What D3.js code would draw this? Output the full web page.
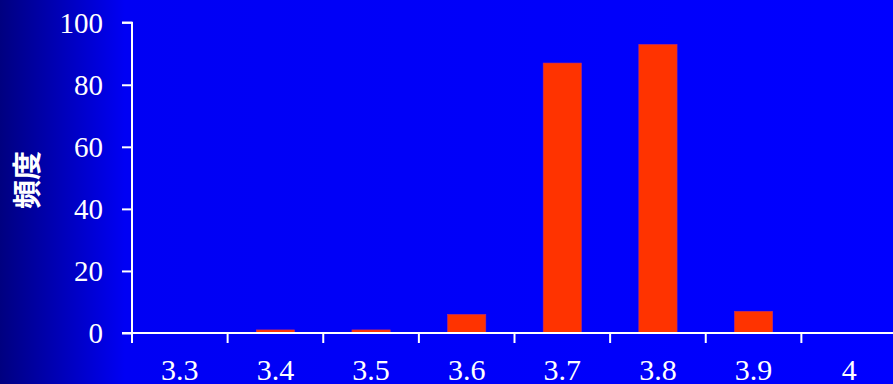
<!DOCTYPE html>
<html><head><meta charset="utf-8">
<script src="https://cdn.jsdelivr.net/npm/d3@7"></script>
<style>html,body{margin:0;padding:0;overflow:hidden;background:#0000ff}</style>
</head><body>
<script>
const categories = ["3.3","3.4","3.5","3.6","3.7","3.8","3.9","4"];
const frequencies = [0, 1, 1, 6, 87, 93, 7, 0];
const yTicks = [0, 20, 40, 60, 80, 100];
const yLabel = "頻度";

const W = 893, H = 384;
const svg = d3.select("body").append("svg").attr("width", W).attr("height", H);
const defs = svg.append("defs");
const grad = defs.append("linearGradient").attr("id","bg").attr("x1","0").attr("x2","1").attr("y1","0").attr("y2","0");
grad.append("stop").attr("offset","0%").attr("stop-color","#000080");
grad.append("stop").attr("offset","14%").attr("stop-color","#0000f4");
grad.append("stop").attr("offset","100%").attr("stop-color","#0000ff");
svg.append("rect").attr("width",W).attr("height",H).attr("fill","url(#bg)");

const x0 = 132, x1 = 897, yTop = 22.7, yBot = 333;
const x = d3.scaleBand().domain(categories).range([x0, x1]).paddingInner(0.6).paddingOuter(0.3);
const xb = d3.scaleBand().domain(categories).range([x0, x1]);
const y = d3.scaleLinear().domain([0, 100]).range([yBot, yTop]);

svg.selectAll("rect.bar").data(frequencies).join("rect").attr("class","bar")
  .attr("x", (d,i) => x(categories[i]))
  .attr("width", x.bandwidth())
  .attr("y", d => y(d))
  .attr("height", d => yBot - y(d))
  .attr("fill", "#ff3300")
  .attr("stroke", "#c0306a").attr("stroke-width", 0.6);

const font = "'Liberation Serif','Times New Roman',serif";
// Y axis
const gy = svg.append("g").attr("transform", `translate(${x0},0)`)
  .call(d3.axisLeft(y).tickValues(yTicks).tickSize(10).tickPadding(19));
gy.select(".domain").attr("stroke","#fff").attr("stroke-width",2).attr("d", `M-10,${yTop}H0V${yBot}`);
gy.selectAll(".tick line").attr("stroke","#fff").attr("stroke-width",2);
gy.selectAll(".tick text").attr("fill","#fff").attr("font-family",font).attr("font-size",29).attr("dy","0.33em");
gy.selectAll(".tick").filter(d => d===100).select("line").remove();
gy.append("line").attr("x1",-10).attr("x2",0).attr("y1",yTop).attr("y2",yTop).attr("stroke","#fff").attr("stroke-width",2);

// X axis
const gx = svg.append("g").attr("transform", `translate(0,${yBot})`);
gx.append("line").attr("x1", x0 - 10).attr("x2", W).attr("y1",0).attr("y2",0).attr("stroke","#fff").attr("stroke-width",2);
gx.selectAll("line.tk").data(categories).join("line").attr("class","tk")
  .attr("x1", d => xb(d)).attr("x2", d => xb(d)).attr("y1",0).attr("y2",10)
  .attr("stroke","#fff").attr("stroke-width",2);
gx.selectAll("text").data(categories).join("text")
  .attr("x", d => xb(d) + xb.bandwidth()/2).attr("y", 47)
  .attr("text-anchor","middle").attr("fill","#fff")
  .attr("font-family",font).attr("font-size",30).text(d => d);

svg.append("text").attr("transform","translate(38,180) rotate(-90)")
  .attr("text-anchor","middle").attr("fill","#fff")
  .attr("font-family","'Noto Sans CJK JP','Noto Sans CJK SC',sans-serif")
  .attr("font-weight","bold").attr("font-size",29).text(yLabel);
</script>
</body></html>
